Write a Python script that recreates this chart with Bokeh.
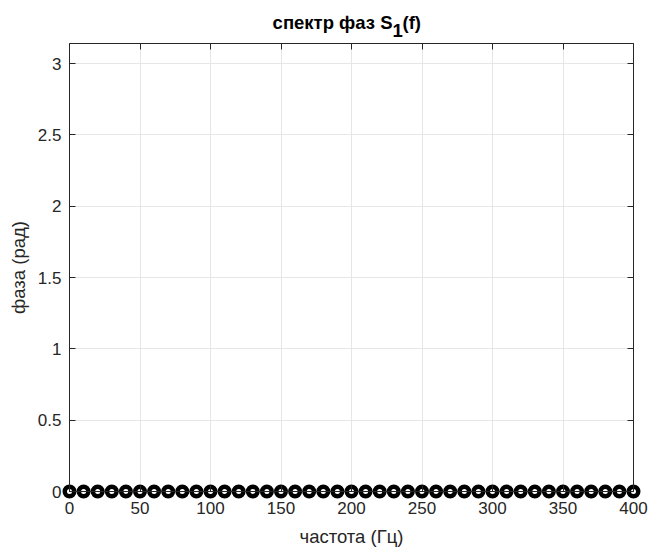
import math

from bokeh.plotting import figure
from bokeh.models import (ColumnDataSource, Range1d, FixedTicker, NumeralTickFormatter,
                          LinearAxis, CustomJSTickFormatter, Label)
from bokeh.embed import file_html
from bokeh.resources import INLINE

# Phase spectrum of S1(f): harmonics every 10 Hz, all with zero phase
freq = [0, 10, 20, 30, 40, 50, 60, 70, 80, 90,
        100, 110, 120, 130, 140, 150, 160, 170, 180, 190,
        200, 210, 220, 230, 240, 250, 260, 270, 280, 290,
        300, 310, 320, 330, 340, 350, 360, 370, 380, 390, 400]
phase = [0, 0, 0, 0, 0, 0, 0, 0, 0, 0,
         0, 0, 0, 0, 0, 0, 0, 0, 0, 0,
         0, 0, 0, 0, 0, 0, 0, 0, 0, 0,
         0, 0, 0, 0, 0, 0, 0, 0, 0, 0, 0]

x_ticks = [0, 50, 100, 150, 200, 250, 300, 350, 400]
y_ticks = [0, 0.5, 1, 1.5, 2, 2.5, 3]
x_lim = (0, 400)
y_lim = (0, math.pi)

W, H = 650, 549
# pixel box of the axes inside the canvas
BOX_L, BOX_R, BOX_T, BOX_B = 69, 633, 43, 491

FONT = "Liberation Sans"
AX_COLOR = "#262626"
GRID_COLOR = "#e6e6e6"

# The frame fills the whole canvas so that markers sitting on the box edge and
# the title are not clipped; the axes are pinned to the box with fixed_location.
sx = (BOX_R - BOX_L) / (x_lim[1] - x_lim[0])
sy = (BOX_B - BOX_T) / (y_lim[1] - y_lim[0])
x_range = Range1d(x_lim[0] - BOX_L / sx, x_lim[1] + (W - BOX_R) / sx)
y_range = Range1d(y_lim[0] - (H - BOX_B) / sy, y_lim[1] + BOX_T / sy)


def px_to_x(px):
    return x_lim[0] + (px - BOX_L) / sx


def py_to_y(py):
    return y_lim[0] + (BOX_B - py) / sy


p = figure(width=W, height=H, output_backend="svg", toolbar_location=None,
           x_range=x_range, y_range=y_range,
           x_axis_location=None, y_axis_location=None,
           min_border=0)
p.background_fill_color = "white"
p.border_fill_color = "white"
p.outline_line_color = None


def styled_axis(ticks, loc, bounds, labels=True):
    ax = LinearAxis(ticker=FixedTicker(ticks=ticks), fixed_location=loc, bounds=bounds,
                    major_tick_in=6, major_tick_out=0, minor_tick_line_color=None,
                    axis_line_color=AX_COLOR, major_tick_line_color=AX_COLOR)
    if labels:
        ax.formatter = NumeralTickFormatter(format="0.[0]")
        ax.major_label_text_font = FONT
        ax.major_label_text_font_size = "17px"
        ax.major_label_text_color = AX_COLOR
        ax.axis_label_text_font = FONT
        ax.axis_label_text_font_size = "18.5px"
        ax.axis_label_text_font_style = "normal"
        ax.axis_label_text_color = AX_COLOR
    else:
        ax.formatter = CustomJSTickFormatter(code="return ''")
        ax.major_label_standoff = 0
    return ax


xaxis = styled_axis(x_ticks, y_lim[0], x_lim)
xaxis.axis_label = "частота (Гц)"
xaxis.major_label_standoff = 10
xaxis.axis_label_standoff = 9
p.add_layout(xaxis, "below")

yaxis = styled_axis(y_ticks, x_lim[0], y_lim)
yaxis.axis_label = "фаза (рад)"
yaxis.major_label_standoff = 8
yaxis.axis_label_standoff = 6
p.add_layout(yaxis, "left")

p.add_layout(styled_axis(x_ticks, y_lim[1], x_lim, labels=False), "above")
p.add_layout(styled_axis(y_ticks, x_lim[1], y_lim, labels=False), "right")

# grid only inside the axes box
p.xgrid.ticker = FixedTicker(ticks=x_ticks)
p.ygrid.ticker = FixedTicker(ticks=y_ticks)
p.xgrid.cross_bounds = y_lim
p.ygrid.cross_bounds = x_lim
p.xgrid.grid_line_color = GRID_COLOR
p.ygrid.grid_line_color = GRID_COLOR

src = ColumnDataSource(data=dict(freq=freq, phase=phase))
p.scatter(x="freq", y="phase", source=src, marker="circle", size=9.5,
          line_width=4.5, line_color="black", fill_color=None)

# title with a subscript
title_style = dict(text_baseline="alphabetic", text_font=FONT, text_font_size="18.5px",
                   text_font_style="bold", text_color="black")
p.add_layout(Label(x=px_to_x(392), y=py_to_y(22), text="спектр фаз S",
                   text_align="right", **title_style))
p.add_layout(Label(x=px_to_x(392), y=py_to_y(30), text="1",
                   text_align="left", **title_style))
p.add_layout(Label(x=px_to_x(402), y=py_to_y(22), text="(f)",
                   text_align="left", **title_style))

open("out.html", "w").write(file_html(p, INLINE))
